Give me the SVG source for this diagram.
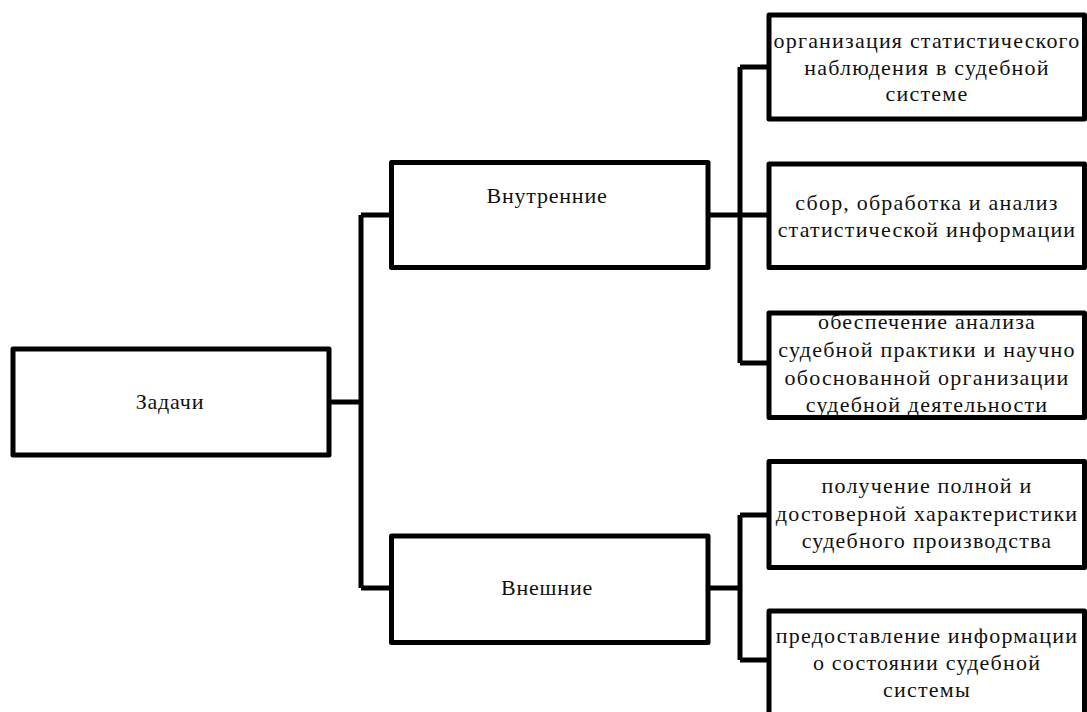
<svg xmlns="http://www.w3.org/2000/svg" width="1087" height="712" viewBox="0 0 1087 712">
<style>
.box{fill:none;stroke:#000;stroke-width:5;stroke-linejoin:round}
.bg{fill:#fff;stroke:none}
.t{font-family:'Liberation Serif','Times New Roman',serif;font-size:22px;fill:#111;text-anchor:middle;letter-spacing:1.2px}
.s{letter-spacing:0.8px}
.c{fill:none;stroke:#000;stroke-width:5;stroke-linejoin:round}
</style>
<rect width="1087" height="712" fill="#fff"/>
<g id="connectors">
<path class="c" d="M329 402 H361 M361 215 V588 M361 215 H391.5 M361 588 H391.5"/>
<path class="c" d="M708 215 H740 M740 67 V363 M740 67 H769 M740 215 H769 M740 363 H769"/>
<path class="c" d="M708 588 H740 M740 515 V660 M740 515 H769 M740 660 H769"/>
</g>
<g id="zadachi">
<rect class="bg" x="13" y="349" width="316" height="106"/>
<text class="t s" x="170" y="409">Задачи</text>
<rect class="box" x="13" y="349" width="316" height="106"/>
</g>
<g id="vnutrennie">
<rect class="bg" x="391.5" y="162.5" width="316.5" height="105"/>
<text class="t s" x="547" y="203">Внутренние</text>
<rect class="box" x="391.5" y="162.5" width="316.5" height="105"/>
</g>
<g id="vneshnie">
<rect class="bg" x="391.5" y="536" width="316.5" height="106.5"/>
<text class="t s" x="547" y="595">Внешние</text>
<rect class="box" x="391.5" y="536" width="316.5" height="106.5"/>
</g>
<g id="task1">
<rect class="bg" x="769" y="15" width="315.5" height="104"/>
<text class="t" x="927" y="48">организация статистического</text>
<text class="t" x="927" y="75">наблюдения в судебной</text>
<text class="t" x="927" y="101">системе</text>
<rect class="box" x="769" y="15" width="315.5" height="104"/>
</g>
<g id="task2">
<rect class="bg" x="769" y="164" width="315.5" height="103.5"/>
<text class="t" x="927" y="210">сбор, обработка и анализ</text>
<text class="t" x="927" y="237">статистической  информации</text>
<rect class="box" x="769" y="164" width="315.5" height="103.5"/>
</g>
<g id="task3">
<rect class="bg" x="769" y="313" width="315.5" height="104.5"/>
<text class="t" x="927" y="329">обеспечение анализа</text>
<text class="t" x="927" y="357">судебной практики и научно</text>
<text class="t" x="927" y="385">обоснованной организации</text>
<text class="t" x="927" y="412">судебной деятельности</text>
<rect class="box" x="769" y="313" width="315.5" height="104.5"/>
</g>
<g id="task4">
<rect class="bg" x="769" y="461.5" width="315.5" height="106"/>
<text class="t" x="927" y="493">получение полной и</text>
<text class="t" x="927" y="521">достоверной характеристики</text>
<text class="t" x="927" y="548">судебного производства</text>
<rect class="box" x="769" y="461.5" width="315.5" height="106"/>
</g>
<g id="task5">
<rect class="bg" x="769" y="611" width="315.5" height="110"/>
<text class="t" x="927" y="643">предоставление  информации</text>
<text class="t" x="927" y="670">о состоянии судебной</text>
<text class="t" x="927" y="697">системы</text>
<rect class="box" x="769" y="611" width="315.5" height="110"/>
</g>
</svg>
